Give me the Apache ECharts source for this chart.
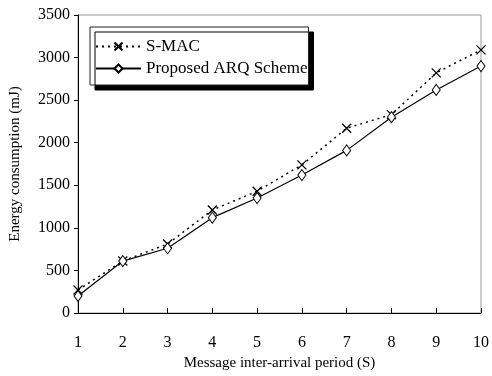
<!DOCTYPE html>
<html><head><meta charset="utf-8">
<script src="https://cdn.jsdelivr.net/npm/echarts@6/dist/echarts.min.js"></script>
<style>html,body{margin:0;padding:0;background:#fff}#c{width:492px;height:376px}</style>
</head><body><div id="c"></div>
<script>
const categories = ['1','2','3','4','5','6','7','8','9','10'];
const smac = [270, 610, 810, 1210, 1430, 1740, 2170, 2330, 2820, 3090];
const arq = [200, 610, 760, 1120, 1350, 1620, 1910, 2300, 2620, 2900];
const yTicks = [0, 500, 1000, 1500, 2000, 2500, 3000, 3500];

const font = 'Liberation Serif';
const chart = echarts.init(document.getElementById('c'), null, {renderer: 'canvas'});
chart.setOption({
  animation: false,
  backgroundColor: '#fff',
  grid: {left: 77, right: 6, top: 15, bottom: 63, show: true, borderColor: '#999', borderWidth: 1},
  legend: {
    orient: 'vertical', left: 90, top: 27,
    backgroundColor: '#fff', borderColor: '#222', borderWidth: 1,
    shadowColor: '#000', shadowOffsetX: 5, shadowOffsetY: 5, shadowBlur: 0,
    padding: [11, 1, 8, 5], itemWidth: 45, itemHeight: 10, itemGap: 5,
    textStyle: {fontFamily: font, fontSize: 17, color: '#000'},
    data: ['S-MAC', 'Proposed ARQ Scheme']
  },
  xAxis: {
    type: 'category', data: categories, boundaryGap: false,
    name: 'Message inter-arrival period (S)', nameLocation: 'middle', nameGap: 42,
    nameTextStyle: {fontFamily: font, fontSize: 15, color: '#000'},
    axisLine: {lineStyle: {color: '#000', width: 1}},
    axisTick: {inside: true, length: 5, lineStyle: {color: '#000'}},
    axisLabel: {fontFamily: font, fontSize: 16, color: '#000', margin: 22},
    splitLine: {show: false}
  },
  yAxis: {
    type: 'value', min: 0, max: 3500, interval: 500,
    name: 'Energy consumption (mJ)', nameLocation: 'middle', nameGap: 55,
    nameTextStyle: {fontFamily: font, fontSize: 15, color: '#000'},
    axisLine: {show: true, lineStyle: {color: '#000', width: 1}},
    axisTick: {show: true, length: 4, lineStyle: {color: '#000'}},
    axisLabel: {fontFamily: font, fontSize: 16, color: '#000', margin: 8,
      formatter: v => yTicks.includes(v) ? String(v) : ''},
    splitLine: {show: false}
  },
  series: [
    {
      name: 'S-MAC', type: 'line', data: smac,
      symbol: 'path://M0,0L10,10M10,0L0,10', symbolSize: [9, 9],
      lineStyle: {color: '#000', width: 1.5, type: [2, 4]},
      itemStyle: {color: '#000', borderColor: '#000', borderWidth: 1.3}
    },
    {
      name: 'Proposed ARQ Scheme', type: 'line', data: arq,
      symbol: 'diamond', symbolSize: [8, 11],
      lineStyle: {color: '#000', width: 1.2, type: 'solid'},
      itemStyle: {color: '#fff', borderColor: '#000', borderWidth: 1}
    }
  ]
});
</script></body></html>
